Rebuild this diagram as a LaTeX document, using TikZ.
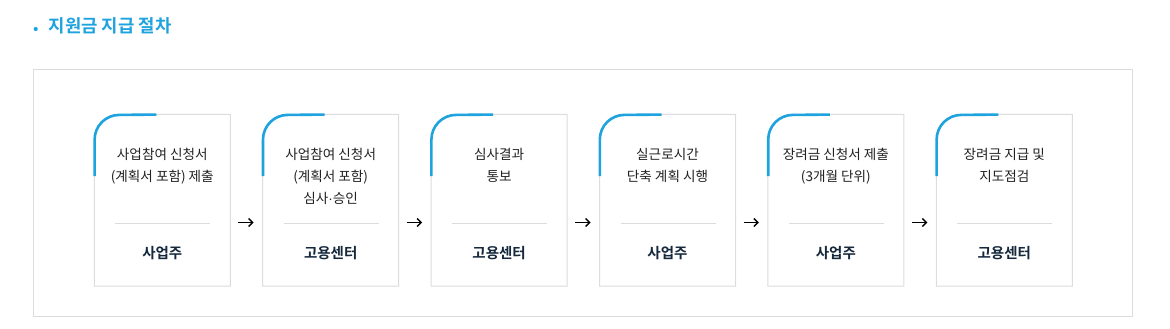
\documentclass[tikz,border=0pt]{standalone}
\usepackage{fontspec}
\setmainfont{Noto Sans CJK KR}
\newfontfamily\krbold{Noto Sans CJK KR Bold}
\newfontfamily\dotfont{Liberation Sans}
\usetikzlibrary{arrows.meta,calc}
\definecolor{accentblue}{HTML}{1FA3DE}
\definecolor{bordergray}{HTML}{DCDCDC}
\definecolor{bodytext}{HTML}{222222}
\definecolor{labelnavy}{HTML}{15283C}
\tikzset{
  cardbox/.style={fill=white, draw=bordergray, line width=1pt},
  accent/.style={draw=accentblue, line width=2.6pt},
  desc/.style={anchor=north, align=center, inner sep=0pt, text=bodytext, font=\fontsize{13.6}{21.7}\selectfont},
  role/.style={anchor=base, inner sep=0pt, text=labelnavy, font=\krbold\fontsize{14.5}{16}\selectfont},
  divider/.style={draw=bordergray, line width=0.8pt},
  flow/.style={draw=black, line width=1.6pt, -{Straight Barb[length=4pt,width=8pt,line width=1.4pt]}, shorten <=8pt, shorten >=9pt}
}
\begin{document}
\begin{tikzpicture}[x=1pt,y=-1pt]
\useasboundingbox (0,0) rectangle (1170,329);
% title
\fill[accentblue] (35.7,29) circle (2.1);
\node[anchor=base west, inner sep=0pt, text=accentblue, font=\krbold\fontsize{17.8}{20}\selectfont] (title) at (48.5,32.8) {지원금 지급 절차};
% outer frame
\draw[draw=bordergray, line width=1pt] (33.3,69.3) rectangle (1132.3,316) node[pos=0, inner sep=0pt] (frame) {};
% cards
\foreach \i/\ta/\tb in {
  0/{사업참여 신청서\\(계획서 포함) 제출}/사업주,
  1/{사업참여 신청서\\(계획서 포함)\\심사{\dotfont·}승인}/고용센터,
  2/{심사결과\\통보}/고용센터,
  3/{실근로시간\\단축 계획 시행}/사업주,
  4/{장려금 신청서 제출\\(3개월 단위)}/사업주,
  5/{장려금 지급 및\\지도점검}/고용센터}{
  \pgfmathsetmacro{\L}{94.3+168.4*\i}
  \pgfmathsetmacro{\R}{\L+136}
  \pgfmathsetmacro{\C}{\L+68}
  \draw[cardbox] (\L,286) -- (\L,114.3+25) arc[start angle=180, end angle=270, radius=25] -- (\R,114.3) -- (\R,286) -- cycle;
  \coordinate (c\i-w) at (\L,222.5);
  \coordinate (c\i-e) at (\R,222.5);
  \draw[accent] (\L+0.3,176) -- (\L+0.3,114.6+25) arc[start angle=180, end angle=270, radius=24.7] -- (\L+62,114.6);
  \node[desc] (d\i) at (\C,148.3) {\ta};
  \draw[divider] (\L+21,223) -- (\L+116,223);
  \node[role] (r\i) at (\C,258.5) {\tb};
}
% arrows
\foreach \i [evaluate=\i as \j using int(\i+1)] in {0,...,4}{
  \draw[flow] (c\i-e) -- (c\j-w);
}
\end{tikzpicture}
\end{document}
